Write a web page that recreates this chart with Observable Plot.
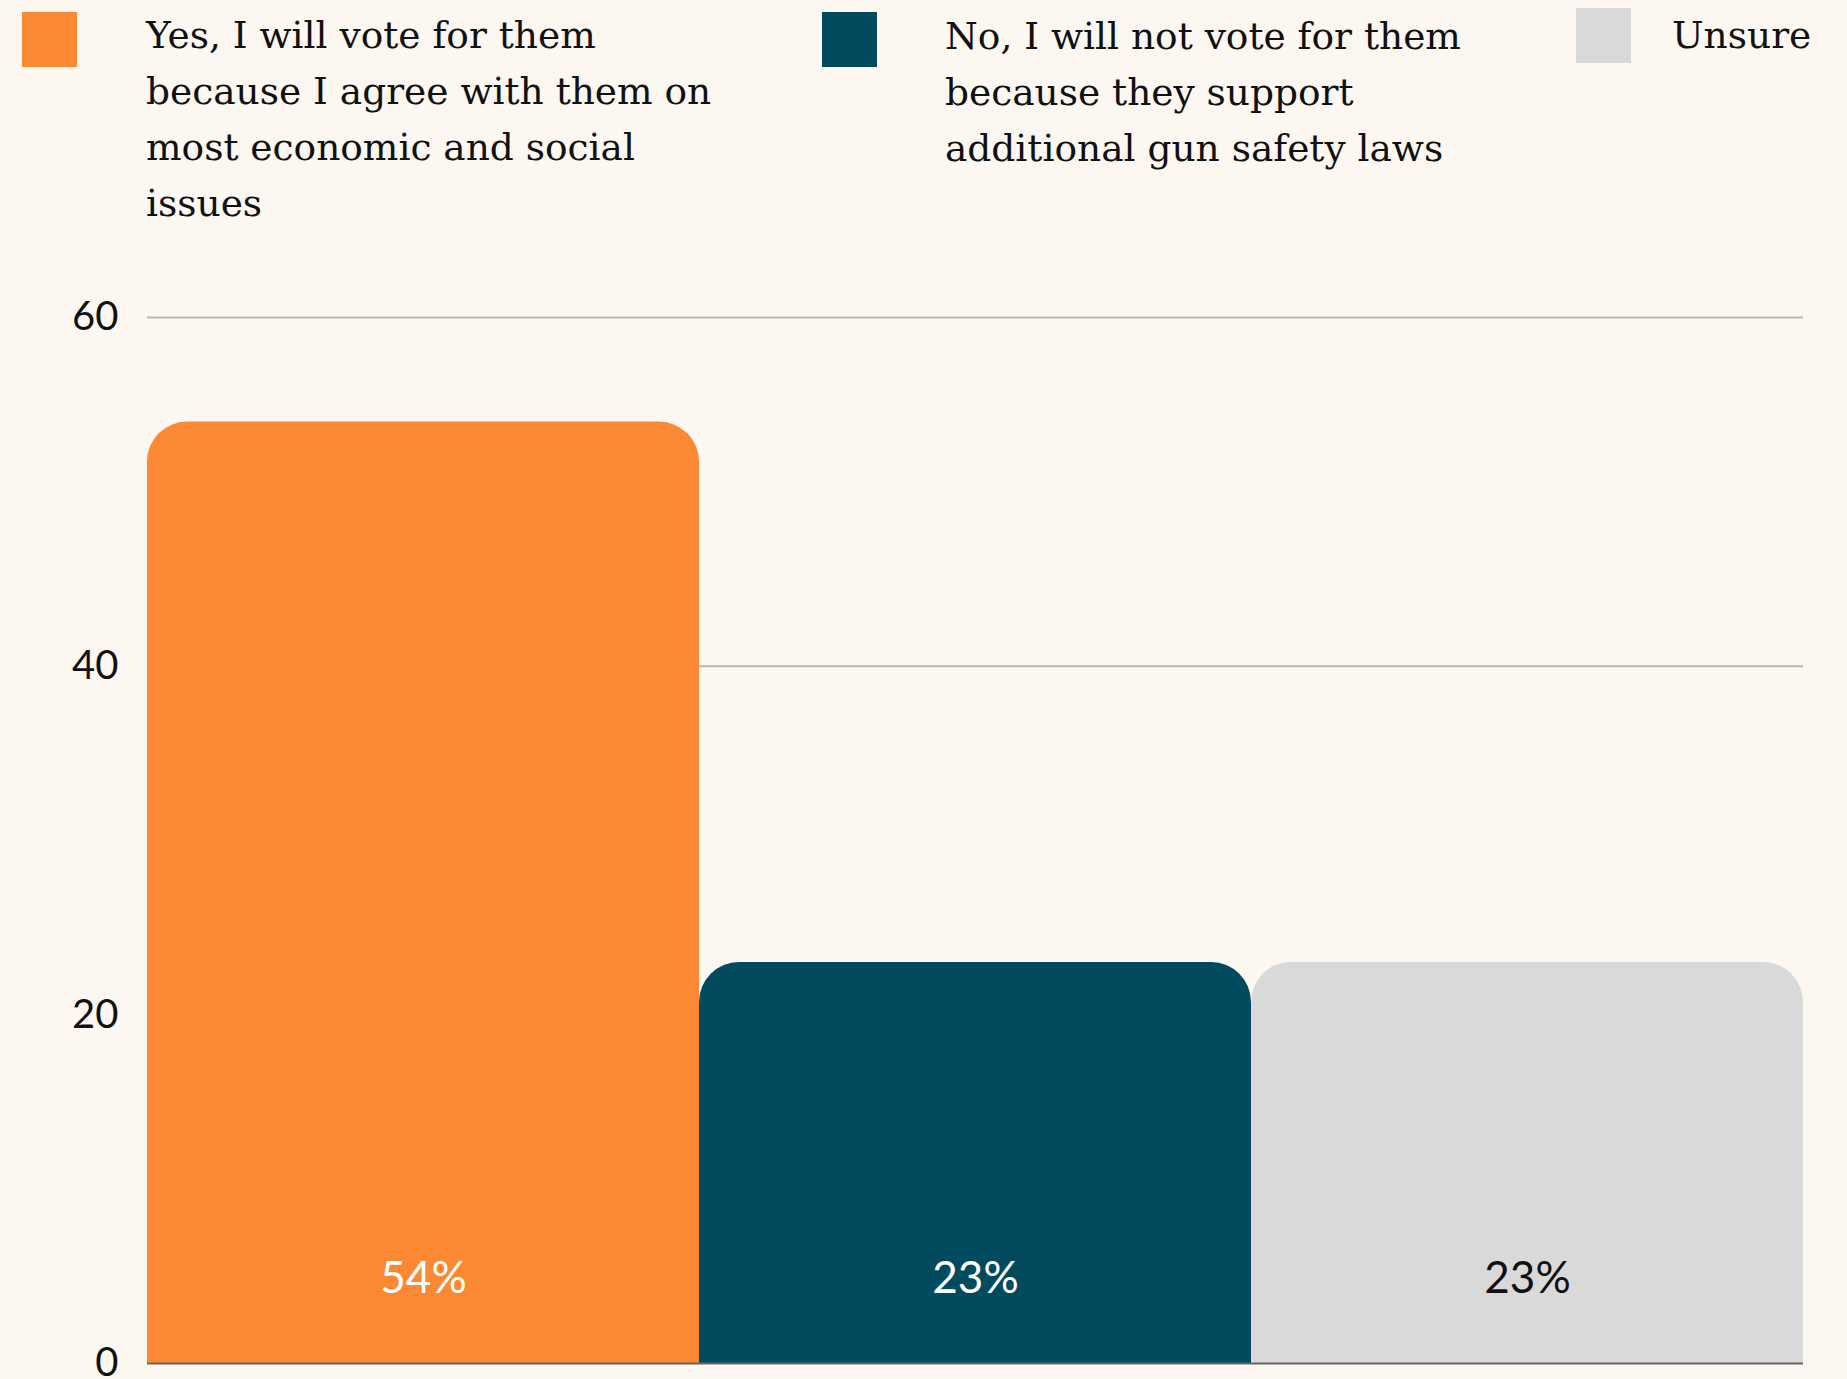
<!DOCTYPE html>
<html>
<head>
<meta charset="utf-8">
<script src="https://cdn.jsdelivr.net/npm/d3@7"></script>
<script src="https://cdn.jsdelivr.net/npm/@observablehq/plot@0.6"></script>
<style>
  html, body { margin: 0; padding: 0; background: #fcf7f1; }
  #wrap { width: 1847px; height: 1379px; overflow: hidden; position: relative; background: #fcf7f1; }
  #legend { position: relative; width: 1847px; height: 250px; }
  .sw { position: absolute; width: 55px; height: 55px; }
  .lt { position: absolute; font-family: "DejaVu Serif", serif; font-size: 37.5px; line-height: 56px; color: #111; white-space: nowrap; }
  #chart svg { display: block; }
</style>
</head>
<body>
<div id="wrap">
  <div id="legend"></div>
  <div id="chart"></div>
</div>
<script>
const legendLines = [
  ["Yes, I will vote for them", "because I agree with them on", "most economic and social", "issues"],
  ["No, I will not vote for them", "because they support", "additional gun safety laws"],
  ["Unsure"]
];
const categories = legendLines.map(l => l.join(" "));
const values = [54, 23, 23];
const colors = ["#fb8832", "#024b5f", "#d9d9d9"];
const labelColors = ["#ffffff", "#ffffff", "#111111"];
const yTicks = [0, 20, 40, 60];

const data = categories.map((c, i) => ({category: c, value: values[i], color: colors[i], labelColor: labelColors[i]}));

// legend
const legend = document.getElementById("legend");
const swPos = [[22, 12], [822, 12], [1576, 8]];
const txPos = [[146, 7], [945, 8], [1672, 7]];
legendLines.forEach((lines, i) => {
  const sw = document.createElement("div");
  sw.className = "sw";
  sw.style.left = swPos[i][0] + "px";
  sw.style.top = swPos[i][1] + "px";
  sw.style.background = colors[i];
  legend.appendChild(sw);
  const t = document.createElement("div");
  t.className = "lt";
  t.style.left = txPos[i][0] + "px";
  t.style.top = txPos[i][1] + "px";
  t.innerHTML = lines.map(s => s.replace(/&/g, "&amp;")).join("<br>");
  legend.appendChild(t);
});

const chart = Plot.plot({
  width: 1847,
  height: 1129,
  marginTop: 67,
  marginBottom: 16,
  marginLeft: 147,
  marginRight: 44,
  style: {background: "transparent", fontFamily: "Lato, sans-serif"},
  x: {domain: categories, padding: 0, axis: null},
  y: {domain: [0, 60], ticks: yTicks, label: null},
  color: {domain: categories, range: colors},
  marks: [
    Plot.gridY(yTicks.filter(d => d > 0), {stroke: "#bbb5af", strokeWidth: 2, strokeOpacity: 1}),
    Plot.barY(data, {x: "category", y: "value", fill: "category", ry1: 40}),
    Plot.ruleY([0], {stroke: "#666", strokeWidth: 2}),
    Plot.axisY({ticks: yTicks, tickSize: 0, tickPadding: 29, fontSize: 40, fill: "#111", label: null}),
    Plot.text(data, {x: "category", text: d => d.value + "%", frameAnchor: "bottom", dy: -85, lineAnchor: "middle", fill: "labelColor", fontSize: 44, fontFamily: "Lato, sans-serif"})
  ]
});
document.getElementById("chart").appendChild(chart);
</script>
</body>
</html>
